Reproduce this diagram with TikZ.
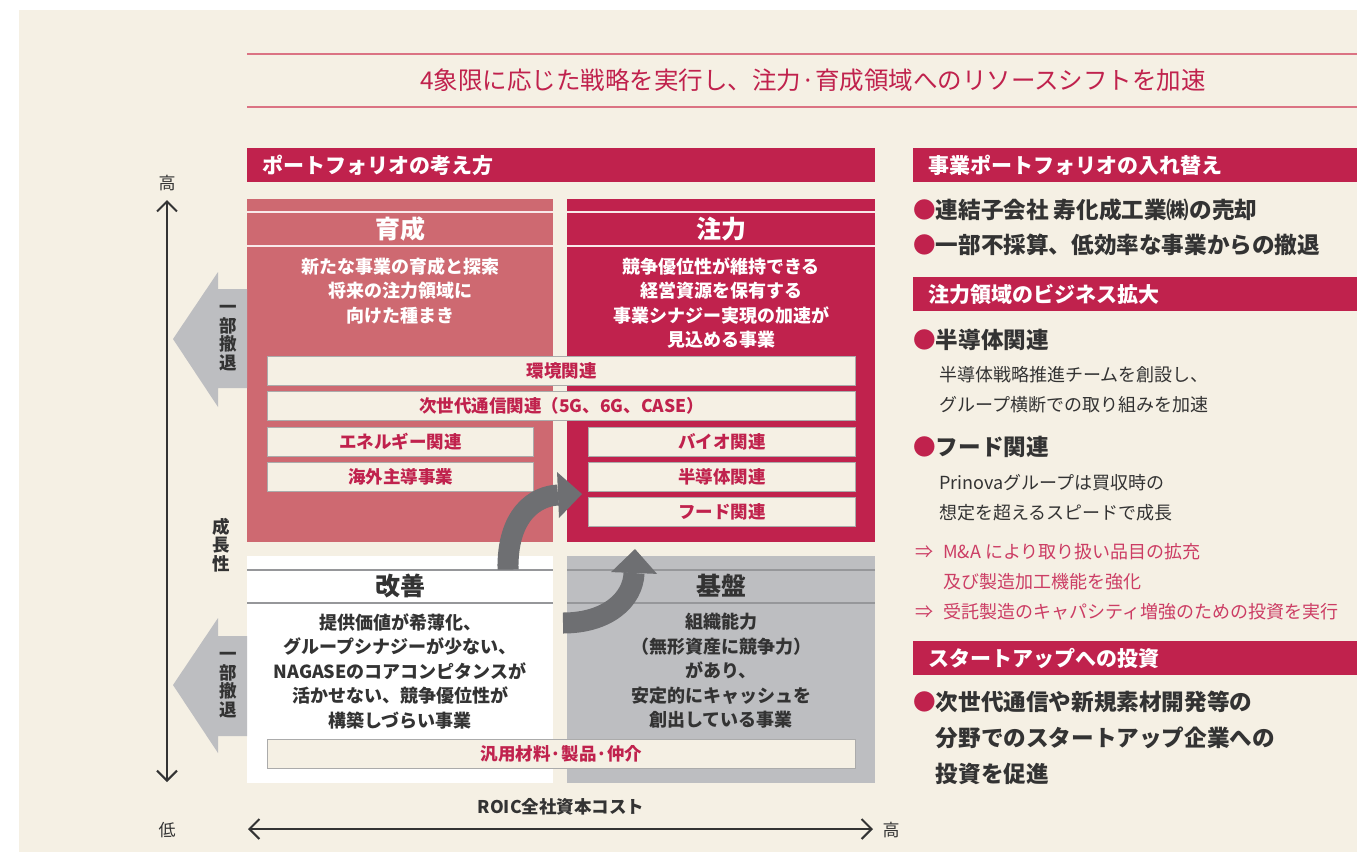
\documentclass[tikz,border=0pt]{standalone}
\usepackage{fontspec}
\setmainfont{Noto Sans CJK JP}
\usetikzlibrary{arrows.meta}
\definecolor{cream}{HTML}{F5F0E4}
\definecolor{crimson}{HTML}{C0224D}
\definecolor{rosy}{HTML}{CE6971}
\definecolor{quadgray}{HTML}{BDBEC1}
\definecolor{arrowgray}{HTML}{6E6F72}
\definecolor{itemline}{HTML}{ABABAB}
\definecolor{ink}{HTML}{333333}
\definecolor{titleline}{HTML}{DB7383}
\definecolor{pinktext}{HTML}{CC3D64}
\definecolor{headline}{HTML}{96979A}
\newcommand\fsz[2]{\fontsize{#1}{#2}\selectfont}
\newcommand\redbul{{\color{crimson}●}}
\newcommand\arr{⇒\hspace{10pt}}
\tikzset{
  % quadrant panels
  quad/.style={fill=#1, anchor=north west, inner sep=0pt},
  qtitle/.style={font=\bfseries\fsz{25}{28}},
  qtext/.style={font=\bfseries\fsz{18}{24.5}, align=center, inner sep=0pt},
  % business boxes
  itembox/.style={draw=itemline, fill=cream, line width=1.2pt, anchor=north west,
    inner sep=0pt, minimum height=29pt, text=crimson, font=\bfseries\fsz{17.5}{20}},
  % red heading bars
  bar/.style={fill=crimson, text=white, font=\bfseries\fsz{21}{25}, anchor=north west,
    minimum height=34pt, inner xsep=15pt, inner ysep=0pt, text width=#1, align=left},
  % right panel text
  bullet/.style={anchor=west, align=left, inner sep=0pt, font=\bfseries\fsz{22.6}{35}},
  subtext/.style={anchor=west, align=left, inner sep=0pt, font=\fsz{18}{30}},
  vlabel/.style={font=\bfseries\fsz{17.5}{18.5}, align=center, inner sep=0pt},
  % arrows
  bigarrow/.style={draw=arrowgray, line width=21pt,
    -{Triangle[length=24pt,width=46pt,line width=0pt]}},
  axisline/.style={draw=ink, line width=2pt,
    {Straight Barb[length=10pt,width=20pt]}-{Straight Barb[length=10pt,width=20pt]}},
}
\begin{document}
\begin{tikzpicture}[x=1pt, y=-1pt, every node/.style={text=ink}]
\useasboundingbox (0,0) rectangle (1357,852);
\fill[cream] (19,10) rectangle (1357,852);

% title
\draw[titleline, line width=1.5pt] (247,54) -- (1357,54);
\draw[titleline, line width=1.5pt] (247,107) -- (1357,107);
\node[font=\fsz{24.5}{28}, text=crimson] (title) at (813,80)
  {4象限に応じた戦略を実行し、注力·育成領域へのリソースシフトを加速};

% portfolio heading
\node[bar=598pt] (pfhead) at (247,148) {ポートフォリオの考え方};

% four quadrants
\node[quad=rosy, minimum width=306pt, minimum height=343pt] (ikusei) at (247,199) {};
\node[quad=crimson, minimum width=308pt, minimum height=343pt] (chuuryoku) at (567,199) {};
\node[quad=white, minimum width=306pt, minimum height=227pt] (kaizen) at (247,556) {};
\node[quad=quadgray, minimum width=308pt, minimum height=227pt] (kiban) at (567,556) {};
\foreach \y in {212,246}
  \draw[white!85!rosy, line width=1.2pt] (247,\y) -- (553,\y) (567,\y) -- (875,\y);
\foreach \y in {570,603}
  \draw[headline, line width=1.5pt] (247,\y) -- (553,\y) (567,\y) -- (875,\y);

\node[qtitle, text=white] (ikuseiT) at (400,229) {育成};
\node[qtitle, text=white] (chuuT) at (721,229) {注力};
\node[qtitle] (kaizenT) at (400,586) {改善};
\node[qtitle] (kibanT) at (721,586) {基盤};

\node[qtext, text=white] (ikuseiB) at (400,291)
  {新たな事業の育成と探索\\将来の注力領域に\\向けた種まき};
\node[qtext, text=white] (chuuB) at (721,303)
  {競争優位性が維持できる\\経営資源を保有する\\事業シナジー実現の加速が\\見込める事業};
\node[qtext] (kaizenB) at (400,671)
  {提供価値が希薄化、\\グループシナジーが少ない、\\NAGASEのコアコンピタンスが\\活かせない、競争優位性が\\構築しづらい事業};
\node[qtext] (kibanB) at (721,671)
  {組織能力\\（無形資産に競争力）\\があり、\\安定的にキャッシュを\\創出している事業};

% business boxes
\node[itembox, minimum width=588pt] (kankyo) at (267,356) {環境関連};
\node[itembox, minimum width=588pt] (jisedai) at (267,391) {次世代通信関連（5G、6G、CASE）};
\node[itembox, minimum width=266pt] (energy) at (267,427) {エネルギー関連};
\node[itembox, minimum width=266pt] (kaigai) at (267,462) {海外主導事業};
\node[itembox, minimum width=267pt] (bio) at (588,427) {バイオ関連};
\node[itembox, minimum width=267pt] (handoutai) at (588,462) {半導体関連};
\node[itembox, minimum width=267pt] (food) at (588,497) {フード関連};
\node[itembox, minimum width=588pt] (hanyou) at (267,739) {汎用材料·製品·仲介};

% partial withdrawal arrows
\fill[quadgray] (247,289) -- (218,289) -- (218,272) -- (173,339) -- (218,407)
  -- (218,388) -- (247,388) -- cycle;
\node[vlabel] (tettai1) at (228,338) {一\\部\\撤\\退};
\fill[quadgray] (247,636) -- (218,636) -- (218,618) -- (173,685) -- (218,753)
  -- (218,736) -- (247,736) -- cycle;
\node[vlabel] (tettai2) at (228,685) {一\\部\\撤\\退};

% axes
\coordinate (vtop) at (167,200);
\coordinate (vbot) at (167,782);
\draw[axisline] (vbot) -- (vtop);
\coordinate (hleft) at (248,829);
\coordinate (hright) at (873,829);
\draw[axisline] (hleft) -- (hright);
\node[font=\fsz{17}{20}] (vhigh) at (167,183) {高};
\node[font=\fsz{17}{20}] (vlow) at (167,830) {低};
\node[font=\fsz{17}{20}] (hhigh) at (891,830) {高};
\node[vlabel] (seichou) at (221,545) {成\\長\\性};
\node[font=\bfseries\fsz{17.5}{20}] (roic) at (561,807) {ROIC全社資本コスト};

% shift arrows
\coordinate (a1s) at (508,569.5);
\coordinate (a1e) at (582,494);
\draw[bigarrow] (a1s) .. controls (507,515) and (535,496) .. (a1e);
\coordinate (a2s) at (563,623);
\coordinate (a2e) at (635,549);
\draw[bigarrow] (a2s) .. controls (607,623) and (633,600) .. (a2e);

% right panel
\node[bar=414pt] (swap) at (913,148) {事業ポートフォリオの入れ替え};
\node[bullet] (swapL) at (913,227.5)
  {\redbul 連結子会社 寿化成工業㈱の売却\\\redbul 一部不採算、低効率な事業からの撤退};
\node[bar=414pt] (focus) at (913,277) {注力領域のビジネス拡大};
\node[bullet] (semi) at (913,340) {\redbul 半導体関連};
\node[subtext] (semiT) at (939,390)
  {半導体戦略推進チームを創設し、\\グループ横断での取り組みを加速};
\node[bullet] (foodH) at (913,447) {\redbul フード関連};
\node[subtext] (foodT) at (939,498)
  {Prinovaグループは買収時の\\想定を超えるスピードで成長};
\node[subtext, text=pinktext] (foodM) at (915,581.5)
  {\arr M\&A により取り扱い品目の拡充\\\phantom{\arr}及び製造加工機能を強化\\\arr 受託製造のキャパシティ増強のための投資を実行};
\node[bar=414pt] (startup) at (913,641) {スタートアップへの投資};
\node[bullet, font=\bfseries\fsz{22.6}{36}] (suL) at (913,738)
  {\redbul 次世代通信や新規素材開発等の\\\hspace*{1em}分野でのスタートアップ企業への\\\hspace*{1em}投資を促進};
\end{tikzpicture}
\end{document}
